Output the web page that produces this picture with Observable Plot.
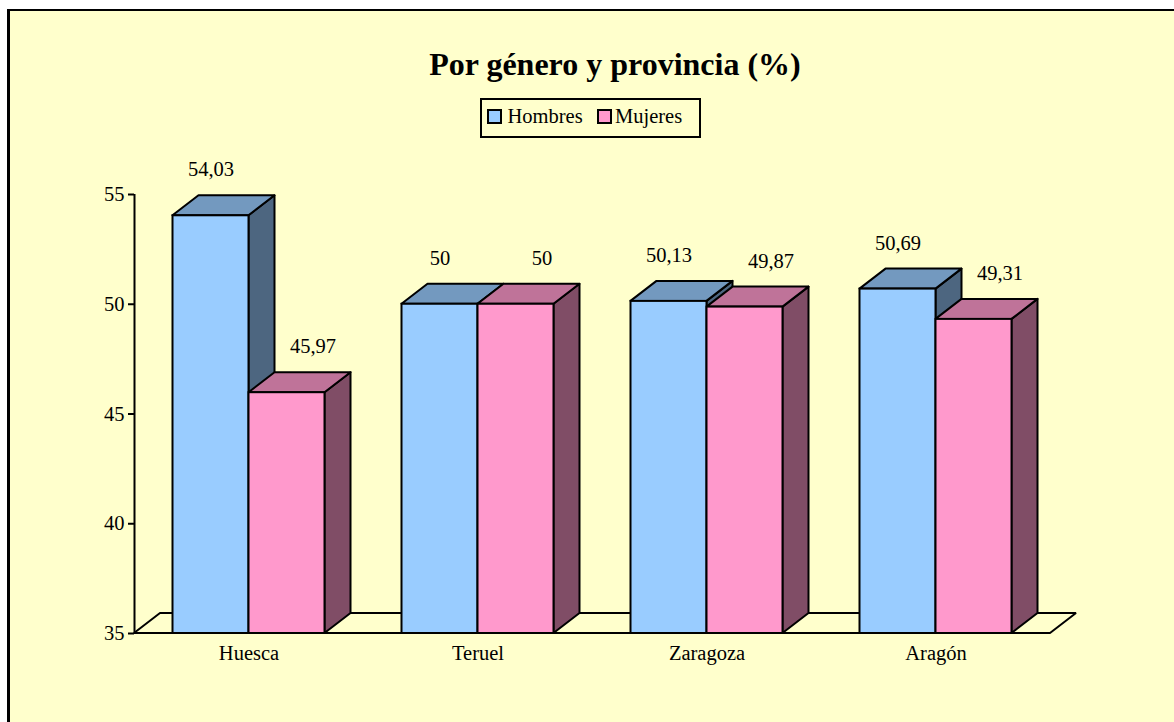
<!DOCTYPE html>
<html>
<head>
<meta charset="utf-8">
<script src="https://cdn.jsdelivr.net/npm/d3@7"></script>
<script src="https://cdn.jsdelivr.net/npm/@observablehq/plot@0.6"></script>
<style>
  html, body { margin: 0; padding: 0; background: #ffffff; }
  body { width: 1174px; height: 722px; overflow: hidden; position: relative; font-family: "Liberation Serif", "Times New Roman", serif; }
  #frame { position: absolute; left: 7px; top: 9px; width: 1220px; height: 760px; background: #FFFFCC; border-top: 2px solid #000; border-left: 3px solid #000; }
  #title { position: absolute; left: 365px; width: 500px; top: 48px; text-align: center; font-size: 32px; line-height: 32px; font-weight: bold; color: #000; white-space: nowrap; }
  #legend { position: absolute; left: 480px; top: 98px; width: 217px; height: 36px; border: 2px solid #000; }
  .sw { position: absolute; width: 11px; height: 11px; border: 2px solid #000; top: 9px; }
  .lt { position: absolute; font-size: 20.5px; line-height: 20.5px; top: 6px; color: #000; white-space: nowrap; }
  #chart { position: absolute; left: 0; top: 150px; }
</style>
</head>
<body>
<div id="frame"></div>
<div id="title">Por género y provincia (%)</div>
<div id="legend"></div>
<div id="chart"></div>
<script>
// ---- data ----
const categories = ["Huesca", "Teruel", "Zaragoza", "Aragón"];
const series = ["Hombres", "Mujeres"];
const hombres = [54.03, 50, 50.13, 50.69];
const mujeres = [45.97, 50, 49.87, 49.31];
const yTicks = [35, 40, 45, 50, 55];

// ---- styles ----
const colors = {
  Hombres: { front: "#99CCFF", top: "#7399BF", side: "#4D6680" },
  Mujeres: { front: "#FF99CC", top: "#BF7399", side: "#804D66" }
};
const bg = "#FFFFCC";

// ---- layout ----
const W = 1174, H = 572;
const mLeft = 134, mRight = 124, mTop = 44, mBottom = 89;
const yMin = 35, yMax = 55;
const pxPerX = (W - mLeft - mRight) / categories.length;
const pxPerY = (H - mTop - mBottom) / (yMax - yMin);
const depthX = 26 / pxPerX, depthY = 20 / pxPerY;
const barW = 76 / pxPerX;
const gap = (1 - 2 * barW) / 2;

// legend
const legend = document.getElementById("legend");
const legPos = [{sw: 5, tx: 25.5}, {sw: 114.5, tx: 133}];
series.forEach((s, j) => {
  const sw = document.createElement("div");
  sw.className = "sw"; sw.style.left = legPos[j].sw + "px"; sw.style.background = colors[s].front;
  legend.appendChild(sw);
  const t = document.createElement("div");
  t.className = "lt"; t.style.left = legPos[j].tx + "px"; t.textContent = s;
  legend.appendChild(t);
});

// ---- tables built from data ----
const values = { Hombres: hombres, Mujeres: mujeres };
const bars = [];
categories.forEach((c, i) => {
  series.forEach((s, j) => {
    const v = values[s][i];
    const x1 = i + gap + j * barW;
    bars.push({ id: c + "-" + s, cat: c, series: s, value: v, x1, x2: x1 + barW,
                label: String(v).replace(".", ",") });
  });
});
const sides = bars.flatMap(b => [
  { id: b.id, series: b.series, x: b.x2, y1: yMin, y2: b.value },
  { id: b.id, series: b.series, x: b.x2 + depthX, y1: yMin + depthY, y2: b.value + depthY }
]);
const tops = bars.flatMap(b => [
  { id: b.id, series: b.series, xa: b.x1, xb: b.x2, y: b.value },
  { id: b.id, series: b.series, xa: b.x1 + depthX, xb: b.x2 + depthX, y: b.value + depthY }
]);
const floor = [
  { xa: 0, xb: categories.length, y: yMin },
  { xa: depthX, xb: categories.length + depthX, y: yMin + depthY }
];
const catLabels = categories.map((c, i) => ({ c, x: i + 0.5 }));

const sideFill = d => colors[d.series].side;
const topFill = d => colors[d.series].top;
const frontFill = d => colors[d.series].front;

const chart = Plot.plot({
  width: W, height: H,
  marginLeft: mLeft, marginRight: mRight, marginTop: mTop, marginBottom: mBottom,
  style: { background: "transparent", fontFamily: "'Liberation Serif', 'Times New Roman', serif", fontSize: "20.5px", color: "#000", overflow: "visible" },
  x: { domain: [0, categories.length], axis: null },
  y: { domain: [yMin, yMax], axis: null },
  marks: [
    Plot.area(floor, { x1: "xa", x2: "xb", y1: "y", fill: bg, stroke: "#000", strokeWidth: 2, strokeLinejoin: "miter" }),
    Plot.ruleX([0], { y1: yMin, y2: yMax, stroke: "#000", strokeWidth: 2 }),
    Plot.axisY(yTicks, { anchor: "left", tickSize: 6, tickPadding: 4, strokeWidth: 2, stroke: "#000", fill: "#000", label: null, fontSize: 20.5 }),
    Plot.area(sides, { x1: "x", y1: "y1", y2: "y2", z: "id", fill: sideFill, stroke: "#000", strokeWidth: 2, strokeLinejoin: "round" }),
    Plot.area(tops, { x1: "xa", x2: "xb", y1: "y", z: "id", fill: topFill, stroke: "#000", strokeWidth: 2, strokeLinejoin: "round" }),
    Plot.rect(bars, { x1: "x1", x2: "x2", y1: yMin, y2: "value", fill: frontFill, stroke: "#000", strokeWidth: 2, insetLeft: 0, insetRight: 0 }),
    Plot.text(bars.filter(b => b.series === "Hombres"), { x: d => (d.x1 + d.x2) / 2, y: "value", text: "label", dy: -46, fill: "#000" }),
    Plot.text(bars.filter(b => b.series === "Mujeres"), { x: d => (d.x1 + d.x2) / 2, y: "value", text: "label", dy: -46, dx: 26, fill: "#000" }),
    Plot.text(catLabels, { x: "x", y: yMin, text: "c", dy: 20, fill: "#000" })
  ]
});
document.getElementById("chart").appendChild(chart);
</script>
</body>
</html>
